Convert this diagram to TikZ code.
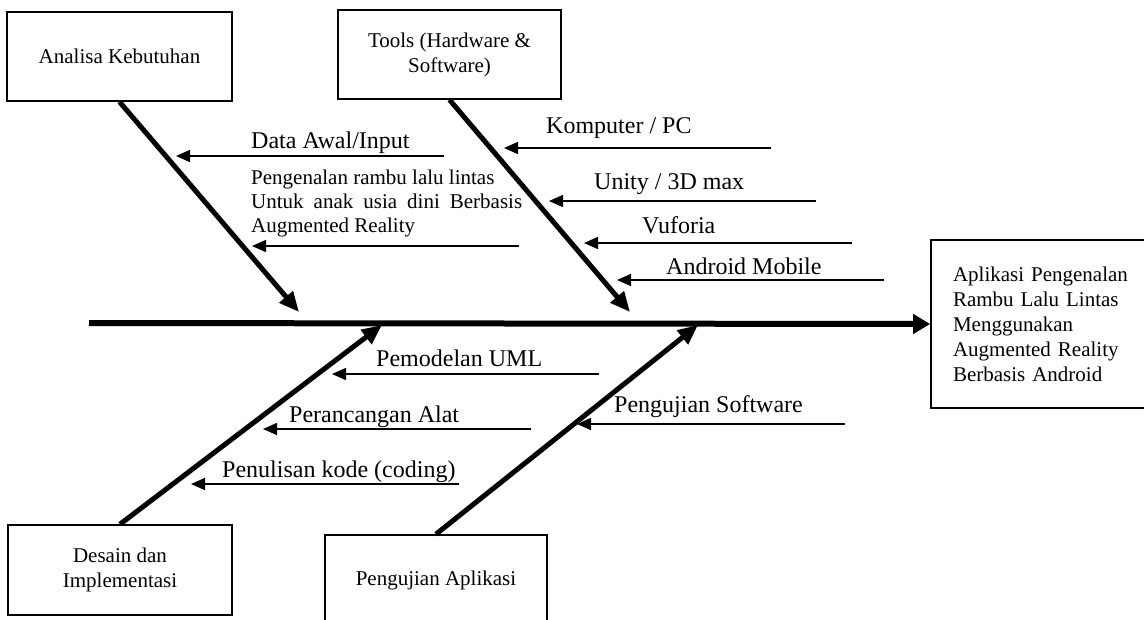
\documentclass[tikz,border=0pt]{standalone}
\usepackage{fontspec}
\setmainfont{Liberation Serif}
\usetikzlibrary{arrows.meta}
\begin{document}
\begin{tikzpicture}[x=1pt,y=-1pt,
  boxnode/.style={draw,line width=1.6pt,align=center,inner sep=0pt,font=\fontsize{21}{25}\selectfont},
  lbl/.style={inner sep=0pt,anchor=base west,font=\fontsize{24}{28}\selectfont},
  bone/.style={line width=5pt,-{Triangle[length=20pt,width=17pt]}},
  spine/.style={line width=6pt,-{Triangle[length=17pt,width=19pt]}},
  sarrow/.style={line width=1.4pt,-{Triangle[length=14pt,width=12pt]}}]
\useasboundingbox (0,0) rectangle (1144,619);
\clip (0,0) rectangle (1144,619);

% boxes
\node[boxnode,minimum width=225pt,minimum height=89pt] (ana) at (119.5,56.5) {Analisa Kebutuhan};
\node[boxnode,minimum width=223pt,minimum height=89pt] (tools) at (449.5,54.5) {Tools (Hardware \&\\Software)};
\node[boxnode,minimum width=224pt,minimum height=90pt] (des) at (120,570) {Desain dan\\Implementasi};
\node[boxnode,minimum width=222pt,minimum height=90pt] (uji) at (436,580) {Pengujian Aplikasi};
\node[boxnode,minimum width=224pt,minimum height=168pt,text width=180pt,align=left] (res) at (1043,324)
  {\makebox[180pt][s]{Aplikasi Pengenalan}\\\makebox[180pt][s]{Rambu Lalu Lintas}\\Menggunakan\\\makebox[180pt][s]{Augmented Reality}\\Berbasis Android};

% spine and bones
\coordinate (sp0) at (89,323);
\coordinate (t1) at (299,312);
\coordinate (t2) at (630,312);
\coordinate (t3) at (382,325);
\coordinate (t4) at (698,325);
\draw[spine] (sp0) -- (res.west);
\draw[bone] (ana.south) -- (t1);
\draw[bone] (tools.south) -- (t2);
\draw[bone] (des.north) -- (t3);
\draw[bone] (uji.north) -- (t4);

% small arrows
\coordinate (a1s) at (444,156); \coordinate (a1e) at (176,156);
\coordinate (a2s) at (519,246); \coordinate (a2e) at (252,246);
\coordinate (b1s) at (771,148); \coordinate (b1e) at (504,148);
\coordinate (b2s) at (816,201); \coordinate (b2e) at (549,201);
\coordinate (b3s) at (852,243); \coordinate (b3e) at (584,243);
\coordinate (b4s) at (884,280); \coordinate (b4e) at (617,280);
\coordinate (c1s) at (599,374); \coordinate (c1e) at (332,374);
\coordinate (c2s) at (531,429); \coordinate (c2e) at (263,429);
\coordinate (c3s) at (459,484); \coordinate (c3e) at (191,484);
\coordinate (d1s) at (845,424); \coordinate (d1e) at (577,424);
\foreach \s/\e in {a1s/a1e,a2s/a2e,b1s/b1e,b2s/b2e,b3s/b3e,b4s/b4e,c1s/c1e,c2s/c2e,c3s/c3e,d1s/d1e}
  \draw[sarrow] (\s) -- (\e);

% labels
\node[lbl] (l1) at (251,148) {Data Awal/Input};
\node[inner sep=0pt,anchor=north west,align=left,font=\fontsize{21}{24}\selectfont] (l2) at (251,170)
  {Pengenalan rambu lalu lintas\\\makebox[271pt][s]{Untuk anak usia dini Berbasis}\\Augmented Reality};
\node[lbl] (l3) at (546,133) {Komputer / PC};
\node[lbl] (l4) at (594,189) {Unity / 3D max};
\node[lbl] (l5) at (642,233) {Vuforia};
\node[lbl] (l6) at (666,274) {Android Mobile};
\node[lbl] (l7) at (376,366) {Pemodelan UML};
\node[lbl] (l8) at (289,422) {Perancangan Alat};
\node[lbl] (l9) at (222,477) {Penulisan kode (coding)};
\node[lbl] (l10) at (614,412) {Pengujian Software};
\end{tikzpicture}
\end{document}
